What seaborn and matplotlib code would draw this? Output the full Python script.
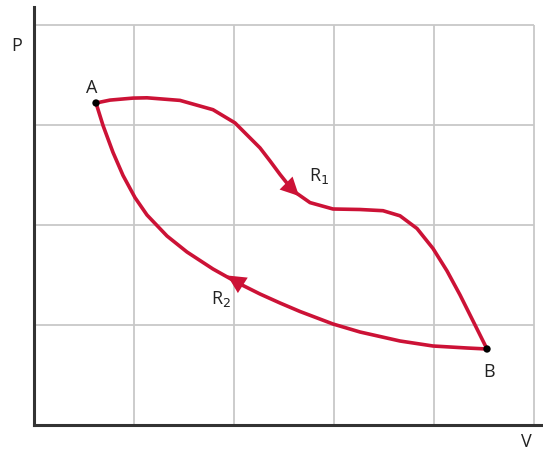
import matplotlib
matplotlib.use("Agg")
import matplotlib.pyplot as plt
import seaborn as sns
import pandas as pd

# Data (grid units)
r1_v = [0.62, 0.76, 0.99, 1.13, 1.46, 1.79, 2.01, 2.26, 2.36, 2.46, 2.59, 2.76, 2.99, 3.26, 3.49, 3.66, 3.83, 3.99, 4.13, 4.26, 4.39, 4.53]
r1_p = [3.22, 3.249, 3.269, 3.272, 3.246, 3.153, 3.021, 2.771, 2.641, 2.506, 2.343, 2.224, 2.16, 2.155, 2.143, 2.092, 1.965, 1.765, 1.541, 1.301, 1.041, 0.76]
r2_v = [4.53, 4.33, 3.99, 3.66, 3.26, 2.99, 2.66, 2.46, 2.26, 2.04, 1.79, 1.53, 1.33, 1.13, 1.01, 0.89, 0.79, 0.69, 0.62]
r2_p = [0.76, 0.77, 0.79, 0.84, 0.93, 1.01, 1.135, 1.22, 1.31, 1.42, 1.56, 1.73, 1.89, 2.10, 2.274, 2.496, 2.726, 2.996, 3.22]
point_labels = ["A", "B"]
point_v = [0.62, 4.53]
point_p = [3.22, 0.76]
grid_v = [1, 2, 3, 4, 5]
grid_p = [1, 2, 3, 4]

RED = "#cc1236"

sns.set_theme(style="white")
plt.rcParams['font.family'] = ['Open Sans', 'DejaVu Sans']

fig = plt.figure(figsize=(5.43, 4.52), dpi=100)
ax = fig.add_axes([34/543, 26/452, 509/543, 418/452])

# grid box
ax.vlines(grid_v, 0, max(grid_p), color="#c8c8c8", lw=1.3, zorder=0)
ax.hlines(grid_p, 0, max(grid_v), color="#c8c8c8", lw=1.3, zorder=0)

df1 = pd.DataFrame({"V": r1_v, "P": r1_p})
df2 = pd.DataFrame({"V": r2_v, "P": r2_p})
sns.lineplot(data=df1, x="V", y="P", sort=False, color=RED, lw=2.6, ax=ax,
             solid_joinstyle="round", solid_capstyle="round")
sns.lineplot(data=df2, x="V", y="P", sort=False, color=RED, lw=2.6, ax=ax,
             solid_joinstyle="round", solid_capstyle="round")
sns.scatterplot(x=point_v, y=point_p, color="black", s=28, zorder=5, ax=ax, edgecolor="none")

# arrows on the curves
ax.annotate("", xy=(2.67, 2.27), xytext=(2.50, 2.44),
            arrowprops=dict(arrowstyle="-|>,head_length=1.1,head_width=0.55", color=RED, lw=0))
ax.annotate("", xy=(1.91, 1.51), xytext=(2.13, 1.37),
            arrowprops=dict(arrowstyle="-|>,head_length=1.1,head_width=0.55", color=RED, lw=0))

ax.set_xlim(0, 5.09)
ax.set_ylim(0, 4.18)
ax.set_xticks([])
ax.set_yticks([])
ax.set_xlabel("")
ax.set_ylabel("")
for s in ["top", "right"]:
    ax.spines[s].set_visible(False)
for s in ["left", "bottom"]:
    ax.spines[s].set_color("#333333")
    ax.spines[s].set_linewidth(2.2)

tc = "#222222"
ax.text(0.58, 3.38, "A", fontsize=13, color=tc, ha="center", va="center")
ax.text(4.55, 0.54, "B", fontsize=13, color=tc, ha="center", va="center")
ax.text(2.85, 2.50, "R$_1$", fontsize=13, color=tc, ha="center", va="center")
ax.text(1.87, 1.27, "R$_2$", fontsize=13, color=tc, ha="center", va="center")
ax.text(-0.17, 3.80, "P", fontsize=13, color=tc, ha="center", va="center", clip_on=False)
ax.text(4.92, -0.16, "V", fontsize=13, color=tc, ha="center", va="center", clip_on=False)

fig.savefig("out.png", dpi=100)
